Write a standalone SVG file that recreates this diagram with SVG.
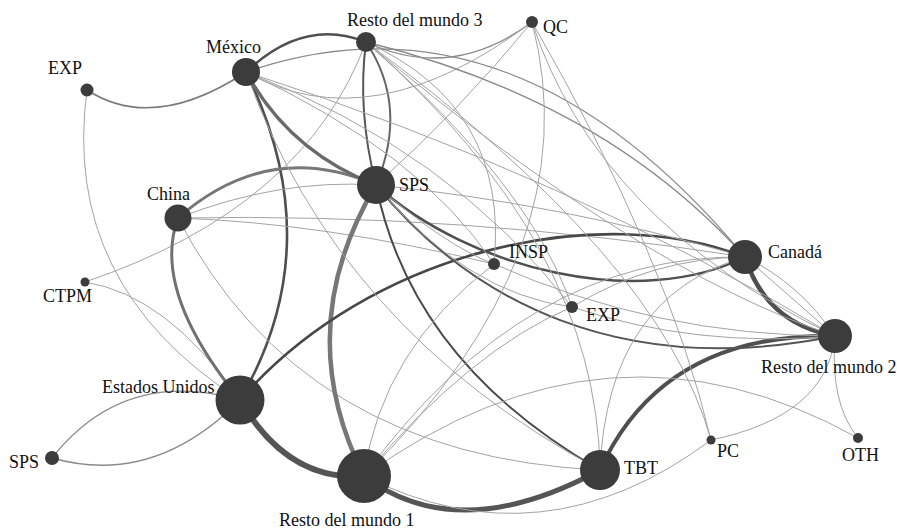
<svg xmlns="http://www.w3.org/2000/svg" width="897" height="529" viewBox="0 0 897 529">
<style>
.e{fill:none;stroke-linecap:round}
.t{stroke:#a3a3a3;stroke-width:1}
.m{stroke:#8a8a8a;stroke-width:1.3}
.d{stroke:#555;stroke-width:2}
.g{stroke:#777;stroke-width:3}
.k{stroke:#4f4f4f}
.n{fill:#3c3c3c}
.l{font-family:"Liberation Serif","Times New Roman",serif;font-size:18px;fill:#111}
</style>
<rect width="897" height="529" fill="#fff"/>
<g id="connectors">
<path class="e m" d="M87,90 Q153.5,133 246,72" style="stroke:#7a7a7a;stroke-width:1.5"/>
<path class="e t" d="M87,90 Q60.5,285 240,400"/>
<path class="e t" d="M85,282 Q304.5,208 366,42"/>
<path class="e t" d="M85,282 Q167.5,295 240,400"/>
<path class="e m" d="M52,458 Q124,367 240,400"/>
<path class="e m" d="M52,458 Q154,487 240,400"/>
<path class="e g" d="M178,218 Q151,291 240,400" style="stroke:#707070"/>
<path class="e k" d="M246,72 Q331,244 240,400" style="stroke-width:2.6"/>
<path class="e g" d="M178,218 Q269,138.5 376,185"/>
<path class="e t" d="M178,218 Q279,178.5 376,185"/>
<path class="e t" d="M178,218 Q460.5,212.5 745,257"/>
<path class="e t" d="M178,218 Q301,456 600,470"/>
<path class="e t" d="M178,218 Q324,223 494,264"/>
<path class="e g" d="M376,185 Q290,329.5 364,476" style="stroke-width:4.5"/>
<path class="e g" d="M246,72 Q289,151.5 376,185" style="stroke:#6a6a6a;stroke-width:3.5"/>
<path class="e k" d="M246,72 Q304,17 366,42" style="stroke-width:2.5"/>
<path class="e d" d="M366,42 Q357,110.5 376,185"/>
<path class="e d" d="M366,42 Q409,106.5 376,185" style="stroke:#666"/>
<path class="e d" d="M376,185 Q412,362.5 600,470" style="stroke:#4a4a4a"/>
<path class="e k" d="M376,185 C470,270 640,310 745,257" style="stroke-width:2.5"/>
<path class="e k" d="M240,400 C370,250 600,200 745,257" style="stroke-width:2.6;stroke:#474747"/>
<path class="e k" d="M240,400 Q288,482 364,476" style="stroke-width:6;stroke:#555"/>
<path class="e k" d="M364,476 Q458,547 600,470" style="stroke-width:5;stroke:#555"/>
<path class="e t" d="M364,476 Q542.5,566 711,440"/>
<path class="e k" d="M600,470 Q662.5,333 835,336" style="stroke-width:4"/>
<path class="e k" d="M745,257 Q766,323.5 835,336" style="stroke-width:4.5"/>
<path class="e t" d="M745,257 Q800,283.5 835,336"/>
<path class="e t" d="M745,257 L835,336"/>
<path class="e d" d="M376,185 C470,300 620,380 835,336"/>
<path class="e t" d="M364,476 Q609,299 858,438"/>
<path class="e t" d="M858,438 Q829.5,403 835,336"/>
<path class="e t" d="M711,440 Q827,416 835,336"/>
<path class="e m" d="M246,72 Q514.5,-20.5 745,257"/>
<path class="e m" d="M366,42 Q451,82 532,22"/>
<path class="e t" d="M246,72 Q371,143 532,22"/>
<path class="e t" d="M376,185 Q460,110 532,22"/>
<path class="e m" d="M366,42 Q604.5,100.5 745,257"/>
<path class="e t" d="M532,22 Q592,251 364,476"/>
<path class="e t" d="M532,22 Q668.5,259 711,440"/>
<path class="e t" d="M532,22 Q596.5,221 835,336"/>
<path class="e t" d="M366,42 Q510,107 494,264"/>
<path class="e t" d="M366,42 Q597,244 600,470"/>
<path class="e t" d="M366,42 Q639.5,271 835,336"/>
<path class="e t" d="M366,42 Q531,185.5 572,307"/>
<path class="e t" d="M366,42 Q661.5,259 711,440"/>
<path class="e t" d="M246,72 Q569.5,176 835,336"/>
<path class="e t" d="M246,72 Q451,150.5 572,307"/>
<path class="e t" d="M246,72 Q337,329 600,470"/>
<path class="e t" d="M246,72 Q420,152 494,264"/>
<path class="e t" d="M376,185 Q445,245.5 494,264"/>
<path class="e t" d="M494,264 Q655.5,336 835,336"/>
<path class="e t" d="M364,476 Q381,350 494,264"/>
<path class="e t" d="M364,476 Q525.5,253.5 745,257"/>
<path class="e t" d="M364,476 Q472,348.5 572,307"/>
<path class="e t" d="M600,470 Q607.5,296.5 745,257"/>
<path class="e t" d="M572,307 Q651.5,258 745,257"/>
<path class="e t" d="M572,307 Q696.5,348.5 835,336"/>
<path class="e t" d="M376,185 Q466,294 572,307"/>
<path class="e t" d="M376,185 Q559.5,203 745,257"/>
</g>
<g id="node-exp-1"><circle class="n" cx="87" cy="90" r="6.5"/><text class="l" x="48" y="74">EXP</text></g>
<g id="node-mexico"><circle class="n" cx="246" cy="72" r="14"/><text class="l" x="206" y="53">México</text></g>
<g id="node-rdm3"><circle class="n" cx="366" cy="42" r="10"/><text class="l" x="347" y="26">Resto del mundo 3</text></g>
<g id="node-qc"><circle class="n" cx="532" cy="22" r="6"/><text class="l" x="543" y="33">QC</text></g>
<g id="node-china"><circle class="n" cx="178" cy="218" r="13.5"/><text class="l" x="147" y="200">China</text></g>
<g id="node-sps-1"><circle class="n" cx="376" cy="185" r="19"/><text class="l" x="399" y="191">SPS</text></g>
<g id="node-insp"><circle class="n" cx="494" cy="264" r="6"/><text class="l" x="509" y="258">INSP</text></g>
<g id="node-canada"><circle class="n" cx="745" cy="257" r="17"/><text class="l" x="768" y="258">Canadá</text></g>
<g id="node-exp-2"><circle class="n" cx="572" cy="307" r="6"/><text class="l" x="586" y="321">EXP</text></g>
<g id="node-rdm2"><circle class="n" cx="835" cy="336" r="17"/><text class="l" x="761" y="373">Resto del mundo 2</text></g>
<g id="node-ctpm"><circle class="n" cx="85" cy="282" r="4.5"/><text class="l" x="43" y="302">CTPM</text></g>
<g id="node-eu"><circle class="n" cx="240" cy="400" r="24.5"/><text class="l" x="102" y="393">Estados Unidos</text></g>
<g id="node-sps-2"><circle class="n" cx="52" cy="458" r="7"/><text class="l" x="9" y="468">SPS</text></g>
<g id="node-rdm1"><circle class="n" cx="364" cy="476" r="27"/><text class="l" x="279" y="526">Resto del mundo 1</text></g>
<g id="node-tbt"><circle class="n" cx="600" cy="470" r="20"/><text class="l" x="624" y="474">TBT</text></g>
<g id="node-pc"><circle class="n" cx="711" cy="440" r="4.5"/><text class="l" x="717" y="457">PC</text></g>
<g id="node-oth"><circle class="n" cx="858" cy="438" r="5"/><text class="l" x="842" y="461">OTH</text></g>
</svg>
